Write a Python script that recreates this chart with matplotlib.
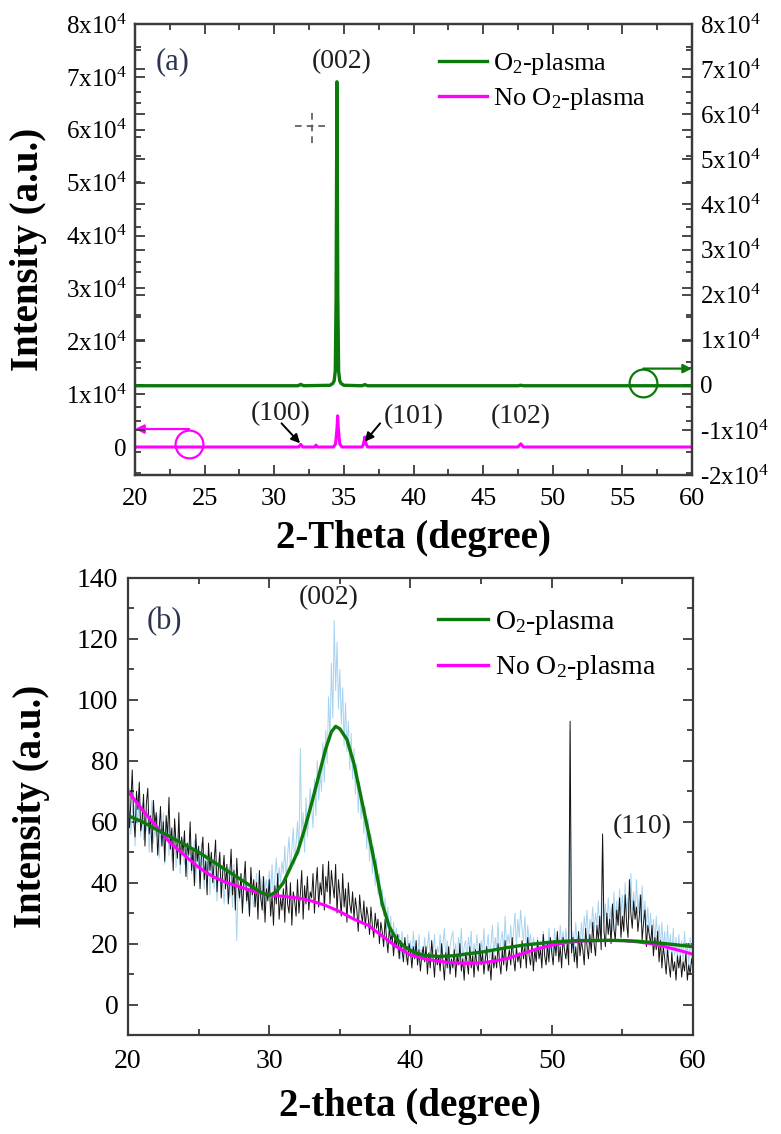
import numpy as np
import matplotlib.pyplot as plt
from matplotlib.ticker import MultipleLocator, FuncFormatter
from matplotlib.lines import Line2D

plt.rcParams['font.family'] = ['Liberation Serif', 'DejaVu Serif']
plt.rcParams['mathtext.fontset'] = 'custom'
plt.rcParams['mathtext.rm'] = 'Liberation Serif'
plt.rcParams['mathtext.it'] = 'Liberation Serif:italic'
plt.rcParams['mathtext.bf'] = 'Liberation Serif:bold'

GREEN = '#0b7a0b'
MAGENTA = '#ff00ff'
BLUE_RAW = '#a6d3f0'
BLACK_RAW = '#141414'
SPINE = '#3a3a3a'
TXT = '#1e1e1e'

# ---- (a) full XRD scans ----
# O2-plasma, read against right axis
theta_o2_a = [20, 31.7, 31.9, 32.1, 34.0, 34.2, 34.3, 34.38, 34.44, 34.5, 34.56, 34.62,
              34.7, 34.8, 35.0, 36.3, 36.5, 36.7, 47.5, 47.7, 47.9, 60]
int_o2_a = [-200, -200, 100, -200, -100, 300, 900, 3000, 20000, 67200, 20000, 3000,
            900, 300, -100, -200, 50, -200, -200, -100, -200, -200]
# No O2-plasma, read against left axis
theta_no_a = [20, 31.75, 31.9, 32.05, 32.9, 33.0, 33.1, 34.25, 34.4, 34.5, 34.55, 34.6,
              34.7, 34.85, 36.3, 36.4, 36.5, 36.6, 36.7, 47.5, 47.7, 47.9, 60]
int_no_a = [0, 0, 500, 0, 0, 350, 0, 0, 600, 3500, 5900, 3500,
            600, 0, 0, 500, 1900, 500, 0, 0, 600, 0, 0]

# ---- (b) low-angle scans, 0.1 degree step from 20 to 60 ----
theta_b = np.round(np.arange(200, 601) * 0.1, 1)

raw_o2_b = [
    64, 71, 56, 62, 68, 52, 65, 59, 70, 55,
    66, 54, 61, 57, 64, 50, 60, 67, 53, 58,
    55, 62, 48, 57, 52, 63, 46, 56, 60, 49,
    57, 47, 53, 60, 45, 52, 58, 43, 54, 49,
    46, 53, 41, 50, 56, 43, 48, 54, 40, 51,
    48, 40, 53, 45, 38, 50, 43, 47, 36, 49,
    44, 38, 47, 34, 42, 48, 37, 45, 33, 41,
    39, 45, 35, 41, 32, 46, 38, 21, 40, 34,
    43, 31, 38, 44, 33, 39, 29, 42, 36, 32,
    37, 43, 31, 39, 34, 42, 30, 38, 41, 35,
    44, 37, 46, 35, 42, 48, 38, 45, 40, 47,
    43, 52, 41, 49, 55, 44, 51, 58, 46, 53,
    60, 49, 84, 56, 63, 50, 68, 55, 62, 71,
    65, 58, 74, 62, 80, 67, 76, 70, 86, 73,
    90, 79, 101, 87, 112, 94, 126, 103, 119, 97,
    110, 92, 104, 85, 99, 83, 93, 77, 89, 74,
    84, 69, 79, 63, 73, 61, 67, 56, 65, 51,
    61, 47, 56, 43, 52, 39, 48, 36, 43, 32,
    38, 29, 35, 25, 32, 23, 29, 20, 27, 19,
    25, 17, 23, 15, 24, 18, 20, 14, 23, 16,
    21, 14, 24, 17, 19, 13, 23, 16, 18, 15,
    22, 16, 19, 24, 14, 20, 17, 23, 13, 19,
    17, 23, 14, 20, 25, 15, 21, 12, 19, 22,
    24, 16, 20, 13, 22, 18, 25, 14, 19, 21,
    15, 22, 18, 24, 13, 20, 16, 23, 17, 14,
    21, 17, 25, 14, 19, 23, 15, 20, 26, 16,
    22, 18, 27, 15, 21, 24, 17, 29, 19, 23,
    20, 26, 17, 24, 30, 19, 28, 22, 31, 25,
    21, 29, 18, 26, 20, 23, 16, 22, 19, 15,
    22, 17, 20, 14, 24, 18, 21, 15, 25, 19,
    21, 16, 25, 19, 23, 17, 26, 20, 24, 18,
    25, 19, 22, 90, 16, 24, 18, 27, 20, 23,
    18, 27, 21, 29, 24, 31, 20, 28, 25, 32,
    24, 30, 26, 34, 23, 31, 55, 27, 33, 25,
    35, 27, 32, 24, 37, 28, 34, 26, 38, 29,
    36, 27, 40, 30, 35, 28, 43, 31, 37, 29,
    41, 30, 36, 27, 39, 28, 34, 25, 32, 24,
    30, 21, 28, 20, 29, 21, 26, 19, 27, 18,
    24, 16, 26, 17, 23, 15, 25, 16, 22, 14,
    23, 15, 21, 14, 24, 16, 20, 13, 22, 15,
    18]

raw_no_b = [
    74, 58, 66, 77, 61, 55, 70, 64, 73, 57,
    60, 69, 52, 66, 71, 56, 62, 50, 67, 59,
    63, 49, 57, 65, 52, 60, 47, 62, 55, 68,
    51, 58, 44, 61, 53, 48, 63, 46, 55, 50,
    57, 42, 53, 49, 60, 44, 51, 39, 56, 47,
    52, 38, 49, 55, 41, 47, 36, 53, 44, 50,
    40, 47, 54, 37, 45, 50, 35, 43, 49, 38,
    46, 33, 42, 51, 36, 44, 31, 48, 39, 35,
    43, 30, 40, 47, 34, 38, 29, 45, 36, 41,
    32, 40, 28, 44, 35, 31, 42, 27, 38, 34,
    41, 29, 36, 26, 39, 33, 43, 28, 35, 31,
    38, 27, 42, 33, 30, 40, 26, 37, 34, 29,
    41, 30, 36, 44, 28, 39, 33, 42, 31, 37,
    35, 43, 30, 39, 45, 32, 40, 36, 46, 31,
    42, 37, 47, 33, 44, 39, 35, 46, 30, 41,
    36, 29, 43, 32, 38, 27, 40, 33, 30, 37,
    28, 35, 31, 24, 36, 30, 27, 34, 25, 32,
    29, 23, 32, 26, 22, 30, 25, 28, 20, 27,
    24, 19, 28, 22, 17, 25, 21, 23, 16, 22,
    19, 23, 15, 21, 18, 14, 22, 17, 13, 20,
    17, 12, 19, 15, 21, 13, 18, 11, 16, 19,
    14, 19, 10, 17, 12, 21, 15, 9, 18, 13,
    16, 11, 20, 14, 8, 17, 12, 19, 10, 15,
    12, 18, 9, 16, 13, 20, 11, 15, 8, 17,
    14, 10, 19, 12, 16, 9, 18, 13, 11, 20,
    13, 17, 10, 15, 19, 11, 14, 8, 18, 12,
    16, 12, 20, 14, 10, 18, 13, 21, 11, 15,
    18, 13, 22, 15, 11, 19, 14, 17, 12, 21,
    15, 19, 12, 22, 16, 13, 20, 11, 18, 14,
    21, 15, 18, 12, 23, 16, 13, 20, 14, 22,
    17, 13, 21, 16, 24, 14, 19, 12, 22, 18,
    15, 20, 13, 93, 17, 22, 14, 19, 12, 24,
    16, 21, 18, 13, 25, 19, 15, 23, 17, 27,
    20, 16, 26, 21, 29, 18, 56, 24, 19, 30,
    23, 28, 20, 33, 25, 21, 31, 26, 35, 22,
    29, 24, 36, 27, 22, 41, 30, 25, 34, 28,
    32, 24, 29, 36, 21, 27, 31, 19, 26, 23,
    20, 26, 16, 22, 18, 24, 14, 21, 12, 19,
    15, 10, 18, 13, 9, 17, 11, 14, 8, 16,
    12, 16, 9, 14, 11, 17, 8, 13, 10, 15,
    12]

# fitted envelopes
fit_theta_o2 = [20, 21, 22, 23, 24, 25, 26, 27, 28, 29, 29.5, 30, 30.5, 31, 31.5, 32,
                32.5, 33, 33.5, 34, 34.4, 34.7, 35, 35.5, 36, 36.5, 37, 37.5, 38, 38.5,
                39, 39.5, 40, 40.5, 41, 42, 43, 44, 45, 46, 47, 48, 49, 50, 51, 52, 53,
                54, 55, 56, 57, 58, 59, 60]
fit_o2 = [62, 60, 57.5, 55, 52.5, 50, 47, 44, 41, 38, 36.6, 35.8, 37, 40, 45, 50,
          57.5, 66, 75, 84, 89.5, 91.3, 90.5, 87, 79, 68, 57, 45.5, 33, 25.5,
          21.5, 19.3, 17.8, 16.7, 16.1, 15.8, 16, 16.6, 17.2, 18, 18.8, 19.5, 20, 20.5,
          20.8, 21, 21, 21.1, 21, 20.8, 20.4, 20, 19.5, 19]
fit_theta_no = [20, 21, 22, 23, 24, 25, 26, 27, 28, 29, 30, 31, 32, 33, 34, 35, 36, 37,
                38, 39, 40, 41, 42, 43, 44, 45, 46, 47, 48, 49, 50, 51, 52, 53, 54, 55,
                56, 57, 58, 59, 60]
fit_no = [70, 64, 58.5, 53, 49, 45, 42, 40, 38.5, 37, 36, 35.5, 35, 34, 32.5, 30.5, 28,
          26, 22.5, 19, 16.3, 15, 14.2, 13.7, 13.5, 13.7, 14.3, 15.3, 16.8, 18.3, 19.5,
          20.3, 20.8, 21, 21, 21, 20.6, 20, 19, 17.8, 16.5]

legend_labels = ['O$_2$-plasma', 'No O$_2$-plasma']


def sci_label(v, pos):
    if abs(v) < 1:
        return '0'
    return '%dx10$^{4}$' % int(round(v / 1e4))


def style_spines(ax):
    for s in ax.spines.values():
        s.set_color(SPINE)
        s.set_linewidth(1.6)


fig = plt.figure(figsize=(7.81, 11.34), dpi=100)

# ---------------- panel (a) ----------------
ax1 = fig.add_axes([0.1729, 0.5811, 0.7132, 0.3977])
ax2 = ax1.twinx()

ax1.plot(theta_no_a, int_no_a, color=MAGENTA, lw=2.2)
ax2.plot(theta_o2_a, int_o2_a, color=GREEN, lw=2.4)

ax1.set_xlim(20, 60)
ax1.set_ylim(-5300, 80000)
ax2.set_ylim(-20000, 80000)

ax1.xaxis.set_major_locator(MultipleLocator(5))
ax1.xaxis.set_minor_locator(MultipleLocator(2.5))
for ax in (ax1, ax2):
    ax.yaxis.set_major_locator(MultipleLocator(10000))
    ax.yaxis.set_minor_locator(MultipleLocator(5000))
    ax.yaxis.set_major_formatter(FuncFormatter(sci_label))
    style_spines(ax)

ax1.tick_params(axis='x', which='both', direction='in', top=True, bottom=True,
                color=SPINE, width=1.3, labelsize=19, pad=9)
ax1.tick_params(axis='y', which='both', direction='in', left=True, right=True,
                labelleft=True, labelright=False, color=SPINE, width=1.3,
                labelsize=18, pad=6)
ax2.tick_params(axis='y', which='both', direction='in', left=True, right=True,
                labelleft=False, labelright=True, color=SPINE, width=1.3,
                labelsize=18, pad=6)
for ax in (ax1, ax2):
    ax.tick_params(which='major', length=7)
    ax.tick_params(which='minor', length=4)

ax1.set_xlabel('2-Theta (degree)', fontsize=28, fontweight='bold')
ax1.set_ylabel('Intensity (a.u.)', fontsize=28, fontweight='bold')
ax1.xaxis.set_label_coords(0.5, -0.1)
ax1.yaxis.set_label_coords(-0.158, 0.5)

ax1.text(22.73, 72800, '(a)', fontsize=22, color='#2b3550', ha='center', va='center')
ax1.text(34.86, 72800, '(002)', fontsize=20, color=TXT, ha='center', va='center')
ax1.text(30.48, 6370, '(100)', fontsize=20, color=TXT, ha='center', va='center')
ax1.text(40.0, 5670, '(101)', fontsize=20, color=TXT, ha='center', va='center')
ax1.text(47.7, 5670, '(102)', fontsize=20, color=TXT, ha='center', va='center')
arrow_k = dict(arrowstyle='-|>', color='black', lw=1.4, mutation_scale=13,
               shrinkA=0, shrinkB=0)
ax1.annotate('', xy=(31.85, 700), xytext=(30.52, 4480), arrowprops=arrow_k)
ax1.annotate('', xy=(36.5, 1000), xytext=(37.6, 4480), arrowprops=arrow_k)

# cursor cross left in the scan
ax1.plot([31.5, 34.0], [60700, 60700], color='#555555', lw=1.2, ls=(0, (4, 3)))
ax1.plot([32.7, 32.7], [57500, 64100], color='#555555', lw=1.2, ls=(0, (4, 3)))

# axis markers
ax1.plot([23.88], [600], 'o', ms=20, mfc='none', mec=MAGENTA, mew=1.6)
ax1.annotate('', xy=(20, 3400), xytext=(23.88, 3400),
             arrowprops=dict(arrowstyle='-|>', color=MAGENTA, lw=1.6,
                             mutation_scale=13, shrinkA=0, shrinkB=0))
ax2.plot([56.5], [300], 'o', ms=20, mfc='none', mec=GREEN, mew=1.6)
ax2.annotate('', xy=(60, 3600), xytext=(56.5, 3600),
             arrowprops=dict(arrowstyle='-|>', color=GREEN, lw=1.6,
                             mutation_scale=13, shrinkA=0, shrinkB=0))

handles = [Line2D([], [], color=GREEN, lw=2.4), Line2D([], [], color=MAGENTA, lw=2.4)]
ax2.legend(handles, legend_labels, loc='upper left', bbox_to_anchor=(0.546, 0.94),
           frameon=False, fontsize=19, handlelength=1.8, handletextpad=0.25,
           labelspacing=0.35, borderpad=0, borderaxespad=0)

# ---------------- panel (b) ----------------
axb = fig.add_axes([0.1639, 0.0873, 0.7234, 0.4030])
axb.plot(theta_b, raw_o2_b, color=BLUE_RAW, lw=0.7)
axb.plot(theta_b, raw_no_b, color=BLACK_RAW, lw=0.7)
axb.plot(fit_theta_no, fit_no, color=MAGENTA, lw=2.2)
axb.plot(fit_theta_o2, fit_o2, color=GREEN, lw=2.4)

axb.set_xlim(20, 60)
axb.set_ylim(-10, 140)
axb.xaxis.set_major_locator(MultipleLocator(10))
axb.xaxis.set_minor_locator(MultipleLocator(5))
axb.yaxis.set_major_locator(MultipleLocator(20))
axb.yaxis.set_minor_locator(MultipleLocator(10))
style_spines(axb)
axb.tick_params(which='both', direction='in', top=True, right=True, color=SPINE,
                width=1.3, labelsize=20)
axb.tick_params(axis='x', pad=10)
axb.tick_params(axis='y', pad=7)
axb.tick_params(which='major', length=7)
axb.tick_params(which='minor', length=4)

axb.set_xlabel('2-theta (degree)', fontsize=28, fontweight='bold')
axb.set_ylabel('Intensity (a.u.)', fontsize=28, fontweight='bold')
axb.xaxis.set_label_coords(0.5, -0.115)
axb.yaxis.set_label_coords(-0.138, 0.5)

axb.text(22.6, 125.6, '(b)', fontsize=22, color='#2b3550', ha='center', va='center')
axb.text(34.2, 133.4, '(002)', fontsize=20, color=TXT, ha='center', va='center')
axb.text(56.4, 58.4, '(110)', fontsize=20, color=TXT, ha='center', va='center')

handles_b = [Line2D([], [], color=GREEN, lw=2.4), Line2D([], [], color=MAGENTA, lw=2.4)]
axb.legend(handles_b, legend_labels, loc='upper left', bbox_to_anchor=(0.549, 0.935),
           frameon=False, fontsize=20, handlelength=1.8, handletextpad=0.25,
           labelspacing=0.6, borderpad=0, borderaxespad=0)

fig.savefig('out.png', dpi=100)
